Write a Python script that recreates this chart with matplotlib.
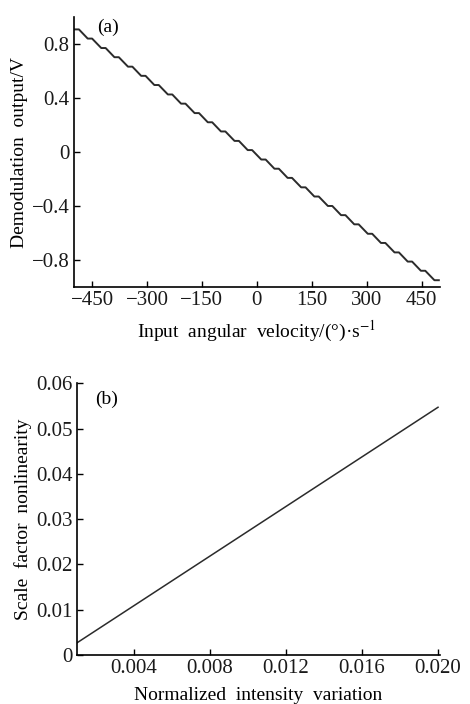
import numpy as np
import matplotlib.pyplot as plt

plt.rcParams['font.family'] = ['Liberation Serif', 'DejaVu Serif']
plt.rcParams['mathtext.fontset'] = 'stix'

# (a) staircase: plateau centres (deg/s) and plateau levels (V)
step_x = [-492, -456, -419, -383, -346, -310, -274, -237, -201, -164, -128, -92, -55, -19,
          18, 54, 90, 127, 163, 200, 236, 272, 309, 345, 382, 418, 454, 491]
step_y = [0.910, 0.842, 0.772, 0.704, 0.634, 0.566, 0.498, 0.428, 0.360, 0.290, 0.222, 0.154,
          0.084, 0.016, -0.054, -0.122, -0.190, -0.260, -0.328, -0.398, -0.466, -0.534,
          -0.604, -0.672, -0.742, -0.810, -0.878, -0.948]
a_xticks = [-450, -300, -150, 0, 150, 300, 450]
a_xlabels = ['\u2212450', '\u2212300', '\u2212150', '0', '150', '300', '450']
a_yticks = [-0.8, -0.4, 0, 0.4, 0.8]
a_ylabels = ['\u22120.8', '\u22120.4', '0', '0.4', '0.8']

# (b) straight line
b_x = [0.001, 0.020]
b_y = [0.0027, 0.0547]
b_xticks = [0.004, 0.008, 0.012, 0.016, 0.020]
b_xlabels = ['0.004', '0.008', '0.012', '0.016', '0.020']
b_yticks = [0, 0.01, 0.02, 0.03, 0.04, 0.05, 0.06]
b_ylabels = ['0', '0.01', '0.02', '0.03', '0.04', '0.05', '0.06']

half = 6  # half width of each plateau
px = np.clip(np.ravel([[c - half, c + half] for c in step_x]), -500, 500)
py = np.repeat(step_y, 2)

fig = plt.figure(figsize=(4.7, 7.04), dpi=100)
ax1 = fig.add_axes([0.157, 0.592, 0.779, 0.3835])
ax2 = fig.add_axes([0.164, 0.0696, 0.772, 0.386])

ax1.plot(px, py, color='#2b2b2b', lw=1.4)
ax1.set_xlim(-500, 500)
ax1.set_ylim(-1.0, 1.0)
ax1.set_xticks(a_xticks)
ax1.set_xticklabels(a_xlabels)
ax1.set_yticks(a_yticks)
ax1.set_yticklabels(a_ylabels)
ax1.set_xlabel('Input  angular  velocity/(\u00b0)\u00b7s$^{-1}$', fontsize=14, labelpad=6)
ax1.set_ylabel('Demodulation  output/V', fontsize=14, labelpad=3)
ax1.text(0.063, 0.996, '(a)', transform=ax1.transAxes, fontsize=14, va='top', ha='left')

ax2.plot(b_x, b_y, color='#2b2b2b', lw=1.1)
ax2.set_xlim(0.001, 0.0201)
ax2.set_ylim(0, 0.06)
ax2.set_xticks(b_xticks)
ax2.set_xticklabels(b_xlabels)
ax2.set_yticks(b_yticks)
ax2.set_yticklabels(b_ylabels)
ax2.set_xlabel('Normalized  intensity  variation', fontsize=14, labelpad=6)
ax2.set_ylabel('Scale  factor  nonlinearity', fontsize=14, labelpad=3)
ax2.text(0.05, 0.974, '(b)', transform=ax2.transAxes, fontsize=14, va='top', ha='left')

for ax in (ax1, ax2):
    ax.spines['top'].set_visible(False)
    ax.spines['right'].set_visible(False)
    ax.spines['left'].set_linewidth(1.2)
    ax.spines['bottom'].set_linewidth(1.2)
    ax.tick_params(direction='in', length=4, width=1, labelsize=15, pad=3,
                   labelcolor='#1a1a1a')

fig.savefig('out.png', dpi=100)
